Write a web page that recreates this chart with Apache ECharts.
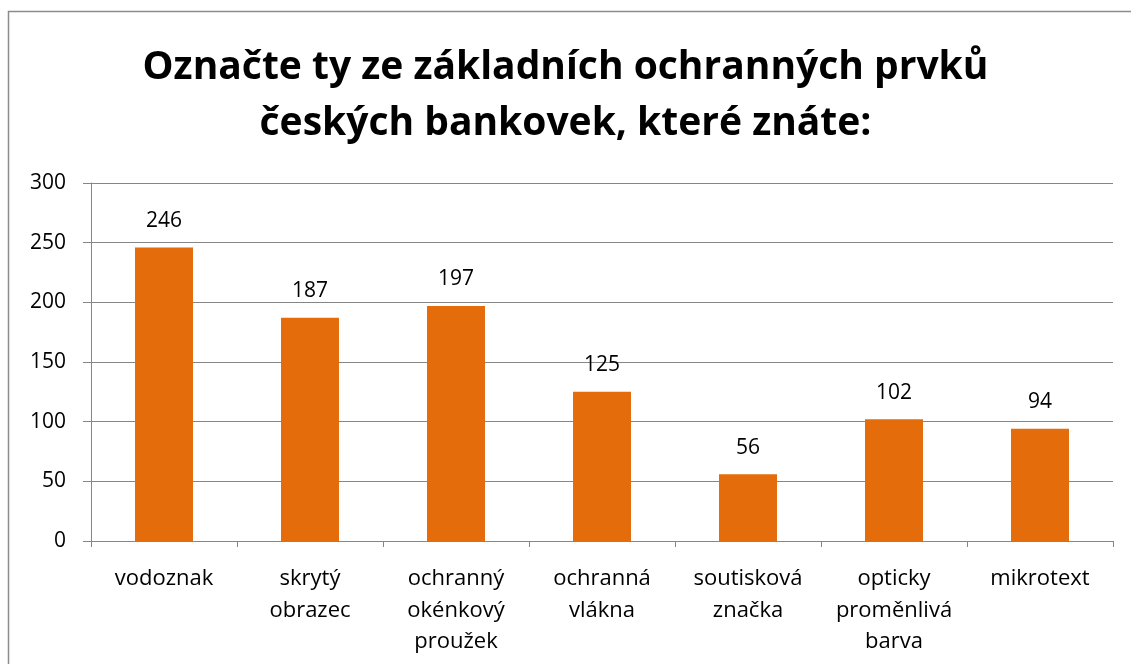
<!DOCTYPE html>
<html><head><meta charset="utf-8">
<script src="https://cdn.jsdelivr.net/npm/echarts@6/dist/echarts.min.js"></script>
<style>html,body{margin:0;padding:0;background:#fff}#c{width:1131px;height:664px}</style>
</head><body><div id="c"></div>
<script>
const categories = ['vodoznak', 'skrytý\nobrazec', 'ochranný\nokénkový\nproužek', 'ochranná\nvlákna', 'soutisková\nznačka', 'opticky\nproměnlivá\nbarva', 'mikrotext'];
const values = [246, 187, 197, 125, 56, 102, 94];
const titleText = 'Označte ty ze základních ochranných prvků\nčeských bankovek, které znáte:';
const font = '"Open Sans", sans-serif';
const chart = echarts.init(document.getElementById('c'));
chart.setOption({
  animation: false,
  title: {
    text: titleText, left: 'center', top: 35,
    textStyle: { fontFamily: font, fontSize: 39, fontWeight: 'bold', color: '#000', lineHeight: 56 }
  },
  graphic: [{ type: 'rect', shape: { x: 8.5, y: 11.5, width: 1200, height: 700 }, style: { fill: 'none', stroke: '#8c8c8c', lineWidth: 1.5 }, silent: true }],
  grid: { left: 91, right: 18, top: 183, bottom: 123, containLabel: false },
  xAxis: {
    type: 'category', data: categories,
    axisLine: { lineStyle: { color: '#868686' } },
    axisTick: { show: true, alignWithLabel: false, length: 6, lineStyle: { color: '#868686' } },
    axisLabel: { fontFamily: font, fontSize: 22, color: '#000', lineHeight: 31.5, margin: 22, interval: 0 }
  },
  yAxis: {
    type: 'value', min: 0, max: 300, interval: 50,
    axisLine: { show: true, lineStyle: { color: '#868686' } },
    axisTick: { show: true, inside: false, length: 8, lineStyle: { color: '#868686' } },
    splitLine: { lineStyle: { color: '#868686' } },
    axisLabel: { fontFamily: font, fontSize: 21, color: '#000', margin: 25 }
  },
  series: [{
    type: 'bar', data: values, barWidth: 58,
    itemStyle: { color: '#E46C0A' },
    label: { show: true, position: 'top', distance: 16, fontFamily: font, fontSize: 21, color: '#000' }
  }]
});
</script></body></html>
